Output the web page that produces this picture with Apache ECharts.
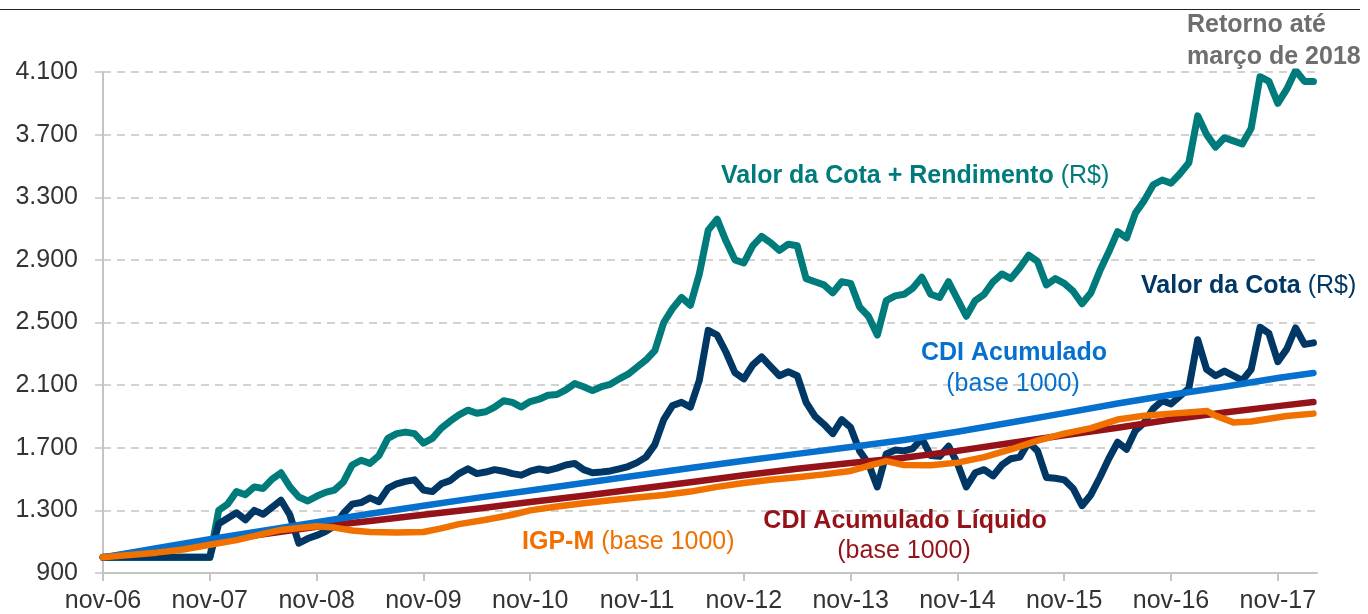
<!DOCTYPE html>
<html><head><meta charset="utf-8">
<script src="https://cdn.jsdelivr.net/npm/echarts@6/dist/echarts.min.js"></script>
<style>html,body{margin:0;padding:0;background:#fff}#c{width:1368px;height:614px}</style>
</head><body><div id="c"></div>
<script>
// Month index 0 = nov-06, 136 = mar-18
const tickLabels = ['nov-06','nov-07','nov-08','nov-09','nov-10','nov-11','nov-12','nov-13','nov-14','nov-15','nov-16','nov-17'];
const tickMonths = [0,12,24,36,48,60,72,84,96,108,120,132];
const yTicks = [900,1300,1700,2100,2500,2900,3300,3700,4100];

// Valor da Cota (R$), monthly
const cotaValues = [
1000,1000,1000,1000,1000,1000,1000,1000,1000,1000,1000,1000,1000,
1215,1250,1285,1240,1300,1275,1320,1365,1270,1090,1120,1140,1165,1200,1280,1340,1350,1380,1355,1440,1470,1485,1495,1430,1420,1470,1490,1535,1565,1535,1545,1560,1550,1535,1525,1550,1565,1555,1570,1590,1600,1560,1540,1545,1552,1565,1580,1605,1640,1720,1880,1970,1990,1960,2130,2450,2420,2310,2180,2140,2230,2280,2220,2160,2185,2160,1990,1900,1850,1790,1880,1830,1680,1600,1450,1660,1685,1680,1695,1760,1650,1645,1710,1600,1450,1540,1560,1520,1590,1630,1640,1735,1680,1510,1505,1495,1440,1330,1400,1510,1630,1735,1690,1810,1860,1950,2000,1980,2030,2080,2390,2200,2160,2190,2160,2130,2200,2470,2430,2250,2330,2465,2360,2370];

// Valor da Cota + Rendimento (R$), monthly
const cotaRendValues = [
1000,1000,1000,1000,1000,1000,1000,1000,1000,1000,1000,1000,1000,
1300,1340,1420,1400,1450,1440,1500,1540,1450,1385,1360,1390,1415,1430,1480,1590,1620,1600,1650,1760,1790,1800,1790,1730,1760,1825,1870,1910,1940,1920,1930,1960,2000,1990,1960,1995,2010,2035,2040,2070,2110,2090,2065,2090,2105,2140,2170,2215,2260,2320,2500,2590,2660,2610,2810,3090,3160,3020,2900,2880,2990,3050,3010,2960,3000,2990,2780,2760,2740,2690,2760,2750,2600,2540,2420,2640,2670,2680,2720,2790,2680,2660,2760,2650,2540,2640,2680,2760,2810,2780,2850,2930,2890,2740,2780,2750,2700,2620,2690,2830,2950,3080,3040,3200,3280,3380,3410,3390,3450,3520,3820,3700,3620,3680,3660,3640,3740,4070,4040,3900,3990,4110,4040,4040];

// CDI Acumulado (base 1000)
const cdiMonths = [0,6,12,18,24,30,36,42,48,54,60,66,72,78,84,90,96,102,108,114,120,126,132,136];
const cdiValues = [1000,1058,1116,1170,1225,1278,1330,1380,1427,1475,1523,1571,1617,1661,1705,1750,1802,1861,1921,1983,2038,2090,2145,2178];

// CDI Acumulado Líquido (base 1000)
const cdiLiqMonths = [0,6,12,18,24,30,36,42,48,54,60,66,72,78,84,90,96,102,108,114,120,126,132,136];
const cdiLiqValues = [1000,1050,1100,1148,1195,1232,1272,1310,1354,1394,1436,1480,1524,1566,1603,1636,1680,1730,1780,1828,1880,1925,1966,1992];

// IGP-M (base 1000)
const igpmMonths = [0,3,6,9,12,15,18,20,22,24,26,28,30,33,36,38,40,43,46,48,51,54,57,60,63,66,69,72,75,78,81,84,86,88,90,93,96,99,102,105,108,111,114,117,120,123,124,125,127,129,131,133,136];
const igpmValues = [1000,1015,1030,1050,1080,1110,1150,1175,1188,1198,1190,1172,1162,1158,1162,1185,1212,1240,1272,1300,1325,1345,1365,1382,1398,1420,1450,1475,1495,1512,1530,1552,1585,1615,1590,1588,1605,1640,1690,1745,1790,1825,1880,1905,1918,1930,1935,1905,1862,1868,1885,1903,1918];

const FONT = "'Liberation Sans', Arial, Helvetica, sans-serif";
const C = {teal:'#007b7b', navy:'#003764', blue:'#0670cf', red:'#961219', orange:'#f07000', grey:'#6e6e6e'};

function fmtY(v){ return v >= 1000 ? Math.floor(v/1000) + '.' + String(v % 1000).padStart(3,'0') : String(v); }
function pairs(xs, ys){ return ys.map((v,i)=>[xs[i], v]); }
function seq(ys){ return ys.map((v,i)=>[i, v]); }

function lineSeries(name, data, color, width){
  return {name, type:'line', data, showSymbol:false, symbol:'none', animation:false,
    lineStyle:{color, width, cap:'round', join:'round'}};
}

function label(x, y, bold, normal, color, align){
  const txt = normal ? '{b|' + bold + '}{n| ' + normal + '}' : '{b|' + bold + '}';
  return {type:'text', x, y, z:100, style:{text: txt, align: align || 'left', verticalAlign:'middle',
    rich:{ b:{fontFamily:FONT, fontSize:25, fontWeight:'bold', fill:color},
           n:{fontFamily:FONT, fontSize:25, fontWeight:'normal', fill:color} }}};
}
function plain(x, y, text, color, weight, align){
  return {type:'text', x, y, z:100, style:{text, fontFamily:FONT, fontSize:25, fontWeight:weight||'normal', fill:color, align:align||'left', verticalAlign:'middle'}};
}

const chart = echarts.init(document.getElementById('c'), null, {renderer:'canvas'});
chart.setOption({
  animation:false,
  backgroundColor:'#ffffff',
  grid:{left:103, right:51, top:72, bottom:40, containLabel:false},
  xAxis:{type:'value', min:0, max:136.4,
    axisLine:{show:true, lineStyle:{color:'#c4c4c4', width:2}},
    axisTick:{show:true, customValues: tickMonths, length:8, lineStyle:{color:'#c4c4c4', width:2}},
    axisLabel:{show:true, customValues: tickMonths, margin:16, color:'#333', fontFamily:FONT, fontSize:25,
      formatter: v => tickLabels[Math.round(v/12)] || ''},
    splitLine:{show:false}},
  yAxis:{type:'value', min:900, max:4100, interval:400,
    axisLine:{show:true, lineStyle:{color:'#c4c4c4', width:2}},
    axisTick:{show:true, length:8, lineStyle:{color:'#c4c4c4', width:1.5}},
    axisLabel:{margin:25, color:'#333', fontFamily:FONT, fontSize:25, formatter: fmtY},
    splitLine:{show:true, lineStyle:{color:'#c4c4c4', width:1.5, type:[8,6]}}},
  series:[
    lineSeries('Valor da Cota + Rendimento', seq(cotaRendValues), C.teal, 7),
    lineSeries('Valor da Cota', seq(cotaValues), C.navy, 7),
    lineSeries('CDI Acumulado Líquido', pairs(cdiLiqMonths, cdiLiqValues), C.red, 6.5),
    lineSeries('CDI Acumulado', pairs(cdiMonths, cdiValues), C.blue, 6.5),
    lineSeries('IGP-M', pairs(igpmMonths, igpmValues), C.orange, 6.5)
  ],
  graphic:[
    {type:'line', shape:{x1:0, y1:9.5, x2:1360, y2:9.5}, style:{stroke:'#222', lineWidth:1}},
    plain(1187, 25, 'Retorno até', C.grey, 'bold'),
    plain(1187, 57, 'março de 2018', C.grey, 'bold'),
    label(721, 176, 'Valor da Cota + Rendimento', '(R$)', C.teal),
    label(1141, 286, 'Valor da Cota', '(R$)', C.navy),
    plain(1014, 353, 'CDI Acumulado', C.blue, 'bold', 'center'),
    plain(1013, 384, '(base 1000)', C.blue, 'normal', 'center'),
    plain(905, 521, 'CDI Acumulado Líquido', C.red, 'bold', 'center'),
    plain(904, 551, '(base 1000)', C.red, 'normal', 'center'),
    label(522, 542, 'IGP-M', '(base 1000)', C.orange)
  ]
});
</script>
</body></html>
